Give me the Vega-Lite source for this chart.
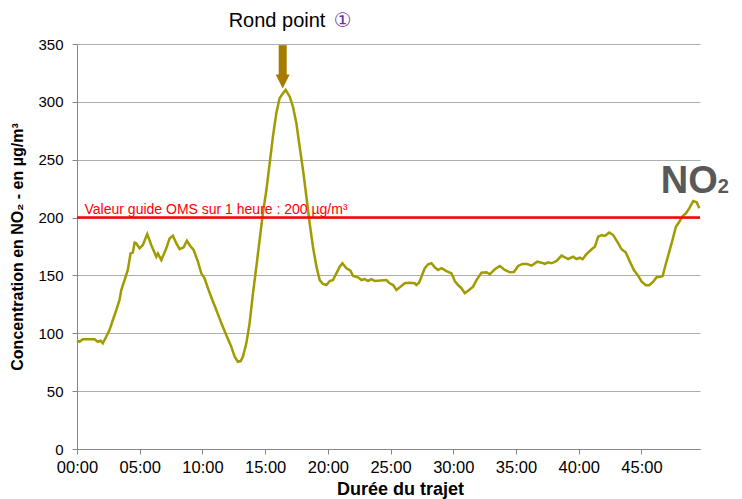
{
  "$schema": "https://vega.github.io/schema/vega-lite/v6.json",
  "width": 623,
  "height": 405,
  "autosize": {"type": "none"},
  "padding": {"left": 77, "top": 44, "right": 42, "bottom": 50},
  "background": "white",
  "config": {"view": {"stroke": null}, "font": "Liberation Sans"},
  "datasets": {
    "no2": [
      {"t": 0, "v": 93.6}, {"t": 0.2, "v": 92.7}, {"t": 0.46, "v": 94.8}, {"t": 1.4, "v": 94.8}, {"t": 1.66, "v": 92.7},
      {"t": 1.88, "v": 93.6}, {"t": 2.06, "v": 91.3}, {"t": 2.33, "v": 97}, {"t": 2.59, "v": 102.8}, {"t": 2.86, "v": 111.5},
      {"t": 3.13, "v": 120}, {"t": 3.39, "v": 128.8}, {"t": 3.53, "v": 137.4}, {"t": 3.79, "v": 146}, {"t": 4.05, "v": 154.7},
      {"t": 4.27, "v": 169}, {"t": 4.45, "v": 169.7}, {"t": 4.59, "v": 178.3}, {"t": 4.72, "v": 177.7}, {"t": 4.99, "v": 173.4},
      {"t": 5.25, "v": 176.3}, {"t": 5.6, "v": 185.8}, {"t": 5.92, "v": 176.3}, {"t": 6.32, "v": 166.2}, {"t": 6.45, "v": 169},
      {"t": 6.72, "v": 163.3}, {"t": 7.12, "v": 173.4}, {"t": 7.38, "v": 182}, {"t": 7.64, "v": 184.3}, {"t": 7.92, "v": 177.7},
      {"t": 8.18, "v": 172.8}, {"t": 8.5, "v": 174.3}, {"t": 8.76, "v": 180}, {"t": 9.03, "v": 175.4}, {"t": 9.3, "v": 172},
      {"t": 9.64, "v": 161.9}, {"t": 9.91, "v": 151.8}, {"t": 10.17, "v": 147.5}, {"t": 10.44, "v": 138.9}, {"t": 10.79, "v": 128.8},
      {"t": 11.11, "v": 120.1}, {"t": 11.51, "v": 108.6}, {"t": 11.9, "v": 98.5}, {"t": 12.3, "v": 88.4}, {"t": 12.57, "v": 79.8},
      {"t": 12.83, "v": 75.4}, {"t": 13.05, "v": 76}, {"t": 13.23, "v": 79.8}, {"t": 13.5, "v": 91.3}, {"t": 13.76, "v": 108.6},
      {"t": 14.03, "v": 134.6}, {"t": 14.3, "v": 157.6}, {"t": 14.56, "v": 180.6}, {"t": 14.82, "v": 203.7}, {"t": 15.1, "v": 223.8},
      {"t": 15.36, "v": 246.9}, {"t": 15.62, "v": 269.9}, {"t": 15.89, "v": 290.1}, {"t": 16.15, "v": 303.1}, {"t": 16.42, "v": 307.4},
      {"t": 16.64, "v": 310.3}, {"t": 16.96, "v": 304.5}, {"t": 17.22, "v": 295.8}, {"t": 17.49, "v": 281.5}, {"t": 17.75, "v": 261.3},
      {"t": 18.02, "v": 241.1}, {"t": 18.29, "v": 218}, {"t": 18.55, "v": 195}, {"t": 18.81, "v": 174.8}, {"t": 19.09, "v": 157.6},
      {"t": 19.35, "v": 146}, {"t": 19.61, "v": 142.6}, {"t": 19.88, "v": 141.7}, {"t": 20.15, "v": 145.2}, {"t": 20.41, "v": 146},
      {"t": 20.68, "v": 151.8}, {"t": 20.94, "v": 157.6}, {"t": 21.16, "v": 160.5}, {"t": 21.48, "v": 156.2}, {"t": 21.8, "v": 154.1},
      {"t": 22.01, "v": 149.5}, {"t": 22.4, "v": 148.4}, {"t": 22.68, "v": 146}, {"t": 22.94, "v": 146.9}, {"t": 23.2, "v": 145.2},
      {"t": 23.47, "v": 146.7}, {"t": 23.74, "v": 145.2}, {"t": 24.67, "v": 146}, {"t": 24.93, "v": 143.2}, {"t": 25.2, "v": 141.7},
      {"t": 25.47, "v": 137.4}, {"t": 25.73, "v": 139.7}, {"t": 26.13, "v": 143.2}, {"t": 26.53, "v": 143.7}, {"t": 26.93, "v": 143.2},
      {"t": 27.06, "v": 141.7}, {"t": 27.27, "v": 143.7}, {"t": 27.46, "v": 148.9}, {"t": 27.73, "v": 156.2}, {"t": 27.99, "v": 159.6},
      {"t": 28.26, "v": 160.5}, {"t": 28.52, "v": 157}, {"t": 28.79, "v": 154.7}, {"t": 29.06, "v": 156.2}, {"t": 29.46, "v": 153.8},
      {"t": 29.86, "v": 151.8}, {"t": 30.12, "v": 145.2}, {"t": 30.38, "v": 141.7}, {"t": 30.66, "v": 138.9}, {"t": 30.92, "v": 134.6},
      {"t": 31.18, "v": 136.8}, {"t": 31.58, "v": 140.3}, {"t": 31.85, "v": 146}, {"t": 32.25, "v": 152.4}, {"t": 32.65, "v": 152.7},
      {"t": 32.91, "v": 151}, {"t": 33.31, "v": 155.3}, {"t": 33.71, "v": 158.2}, {"t": 34.11, "v": 154.7}, {"t": 34.51, "v": 152.7},
      {"t": 34.83, "v": 153}, {"t": 35.17, "v": 158.2}, {"t": 35.52, "v": 159.9}, {"t": 35.89, "v": 159.9}, {"t": 36.24, "v": 158.4},
      {"t": 36.69, "v": 161.9}, {"t": 37.04, "v": 161}, {"t": 37.3, "v": 159.9}, {"t": 37.56, "v": 161.3}, {"t": 37.84, "v": 160.5},
      {"t": 38.24, "v": 162.5}, {"t": 38.63, "v": 167.1}, {"t": 38.9, "v": 165.7}, {"t": 39.16, "v": 164.2}, {"t": 39.56, "v": 166.2},
      {"t": 39.83, "v": 164.2}, {"t": 40.09, "v": 165.3}, {"t": 40.31, "v": 164}, {"t": 40.57, "v": 167.7}, {"t": 41.03, "v": 172.6},
      {"t": 41.29, "v": 174.8}, {"t": 41.55, "v": 183.5}, {"t": 41.83, "v": 184.9}, {"t": 42.09, "v": 184.1}, {"t": 42.43, "v": 187},
      {"t": 42.75, "v": 184.9}, {"t": 43.07, "v": 179.2}, {"t": 43.42, "v": 172.6}, {"t": 43.76, "v": 169.7}, {"t": 44.08, "v": 161.9},
      {"t": 44.4, "v": 154.7}, {"t": 44.75, "v": 149.5}, {"t": 45.02, "v": 144.6}, {"t": 45.36, "v": 141.5}, {"t": 45.62, "v": 141.5},
      {"t": 45.94, "v": 144.6}, {"t": 46.21, "v": 148.4}, {"t": 46.53, "v": 148.9}, {"t": 46.69, "v": 149.5}, {"t": 46.96, "v": 160.5},
      {"t": 47.22, "v": 170.5}, {"t": 47.49, "v": 181.2}, {"t": 47.75, "v": 192.1}, {"t": 48.02, "v": 196.4}, {"t": 48.29, "v": 201.4},
      {"t": 48.55, "v": 203.7}, {"t": 48.81, "v": 208}, {"t": 49.13, "v": 214.3}, {"t": 49.41, "v": 213.2}, {"t": 49.61, "v": 208}
    ],
    "ref": [{"v": 200, "t": 0.6, "label": "Valeur guide OMS sur 1 heure : 200 µg/m³", "lv": 203.5}],
    "arrow": [{"t": 16.4, "v": 349, "v2": 321, "vh": 317.5}],
    "titles": [{"t": 12.09, "v": 365, "label": "Rond point", "t2": 20.47, "sym": "①"}],
    "logo": [{"t": 51.08, "v": 221.2, "a": "NO", "b": "2"}]
  },
  "layer": [
    {
      "data": {"name": "no2"},
      "mark": {"type": "line", "color": "#A09B00", "strokeWidth": 2.5, "interpolate": "linear"},
      "encoding": {
        "x": {
          "field": "t", "type": "quantitative",
          "scale": {"domain": [0, 49.67], "nice": false, "zero": false},
          "axis": {
            "values": [0, 5, 10, 15, 20, 25, 30, 35, 40, 45],
            "labelExpr": "(datum.value < 10 ? '0' : '') + datum.value + ':00'",
            "labelFlush": false, "labelOverlap": false,
            "title": "Durée du trajet", "grid": false,
            "domainColor": "#868686", "tickColor": "#868686", "tickSize": 5,
            "labelPadding": 5, "labelFontSize": 16.5, "labelColor": "#000000",
            "titleFontSize": 18, "titleFontWeight": "bold", "titleColor": "#000000", "titlePadding": 5,
            "titleX": 323
          }
        },
        "y": {
          "field": "v", "type": "quantitative",
          "scale": {"domain": [0, 350], "nice": false},
          "axis": {
            "values": [0, 50, 100, 150, 200, 250, 300, 350],
            "title": "Concentration en NO₂ - en µg/m³",
            "grid": true, "gridColor": "#ADADAD", "gridWidth": 1.2,
            "domainColor": "#868686", "tickColor": "#868686", "tickSize": 5,
            "labelPadding": 9, "labelFontSize": 15, "labelColor": "#000000",
            "titleFontSize": 16, "titleFontWeight": "bold", "titleColor": "#000000", "titlePadding": 12
          }
        }
      }
    },
    {
      "data": {"name": "ref"},
      "mark": {"type": "rule", "color": "#FF0000", "strokeWidth": 2.5},
      "encoding": {
        "y": {"field": "v", "type": "quantitative", "scale": {"domain": [0, 350], "nice": false}}
      }
    },
    {
      "data": {"name": "ref"},
      "mark": {"type": "text", "color": "#FF0000", "fontSize": 14, "align": "left", "baseline": "alphabetic"},
      "encoding": {
        "x": {"field": "t", "type": "quantitative", "scale": {"domain": [0, 49.67], "nice": false, "zero": false}},
        "y": {"field": "lv", "type": "quantitative", "scale": {"domain": [0, 350], "nice": false}},
        "text": {"field": "label"}
      }
    },
    {
      "data": {"name": "arrow"},
      "mark": {"type": "rule", "color": "#A67C00", "strokeWidth": 8, "strokeCap": "butt"},
      "encoding": {
        "x": {"field": "t", "type": "quantitative", "scale": {"domain": [0, 49.67], "nice": false, "zero": false}},
        "y": {"field": "v", "type": "quantitative", "scale": {"domain": [0, 350], "nice": false}},
        "y2": {"field": "v2"}
      }
    },
    {
      "data": {"name": "arrow"},
      "mark": {"type": "point", "shape": "M-1,-1L1,-1L0,1Z", "filled": true, "color": "#A67C00", "opacity": 1, "size": 196},
      "encoding": {
        "x": {"field": "t", "type": "quantitative", "scale": {"domain": [0, 49.67], "nice": false, "zero": false}},
        "y": {"field": "vh", "type": "quantitative", "scale": {"domain": [0, 350], "nice": false}}
      }
    },
    {
      "data": {"name": "titles"},
      "mark": {"type": "text", "color": "#000000", "fontSize": 20, "font": "Liberation Sans", "align": "left", "baseline": "alphabetic"},
      "encoding": {
        "x": {"field": "t", "type": "quantitative", "scale": {"domain": [0, 49.67], "nice": false, "zero": false}},
        "y": {"field": "v", "type": "quantitative", "scale": {"domain": [0, 350], "nice": false}},
        "text": {"field": "label"}
      }
    },
    {
      "data": {"name": "titles"},
      "mark": {"type": "text", "color": "#7030A0", "fontSize": 20, "font": "DejaVu Sans", "align": "left", "baseline": "alphabetic"},
      "encoding": {
        "x": {"field": "t2", "type": "quantitative", "scale": {"domain": [0, 49.67], "nice": false, "zero": false}},
        "y": {"field": "v", "type": "quantitative", "scale": {"domain": [0, 350], "nice": false}},
        "text": {"field": "sym"}
      }
    },
    {
      "data": {"name": "logo"},
      "mark": {"type": "text", "color": "#595959", "fontSize": 38, "fontWeight": "bold", "font": "Liberation Sans", "align": "right", "baseline": "alphabetic"},
      "encoding": {
        "x": {"field": "t", "type": "quantitative", "scale": {"domain": [0, 49.67], "nice": false, "zero": false}},
        "y": {"field": "v", "type": "quantitative", "scale": {"domain": [0, 350], "nice": false}},
        "text": {"field": "a"}
      }
    },
    {
      "data": {"name": "logo"},
      "mark": {"type": "text", "color": "#595959", "fontSize": 20, "fontWeight": "bold", "font": "Liberation Sans", "align": "left", "baseline": "alphabetic"},
      "encoding": {
        "x": {"field": "t", "type": "quantitative", "scale": {"domain": [0, 49.67], "nice": false, "zero": false}},
        "y": {"field": "v", "type": "quantitative", "scale": {"domain": [0, 350], "nice": false}},
        "text": {"field": "b"}
      }
    }
  ]
}
